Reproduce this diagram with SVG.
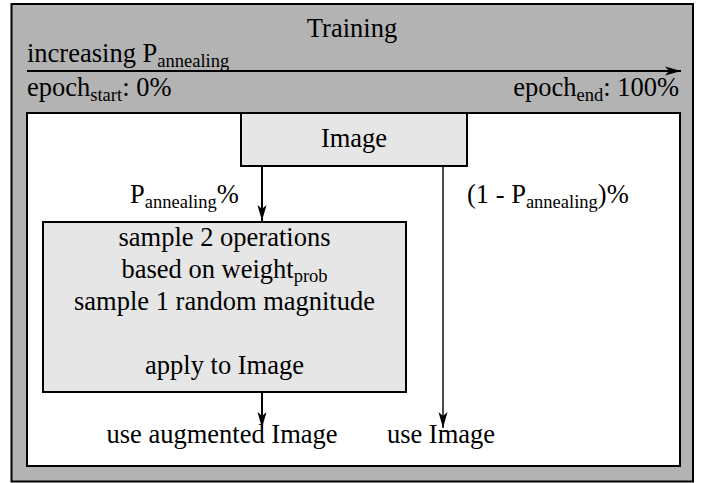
<svg xmlns="http://www.w3.org/2000/svg" width="707" height="483" viewBox="0 0 707 483">
<style>
text{font-family:'Liberation Serif','Times New Roman',Tinos,'DejaVu Serif',serif;font-size:26.5px;fill:#000}
.sub{font-size:18.5px}
.box{stroke:#000;stroke-width:2}
.conn{stroke:#000;fill:none}
</style>
<defs>
<marker id="ah" markerUnits="userSpaceOnUse" markerWidth="18" markerHeight="10" refX="16" refY="5" orient="auto">
<path d="M0,0.5 L16,5 L0,9.5 L4,5 z" fill="#000"/>
</marker>
</defs>
<g id="training">
<rect x="11.5" y="4" width="681.5" height="477.5" fill="#b3b3b3" class="box"/>
<text x="352" y="37" text-anchor="middle">Training</text>
<text x="27" y="62">increasing P<tspan class="sub" dy="5">annealing</tspan></text>
<text x="27" y="96">epoch<tspan class="sub" dy="5">start</tspan><tspan dy="-5">: 0%</tspan></text>
<text x="679" y="96" text-anchor="end">epoch<tspan class="sub" dy="5">end</tspan><tspan dy="-5">: 100%</tspan></text>
</g>
<g id="area">
<rect x="27" y="113" width="653" height="353" fill="#fff" class="box"/>
</g>
<g id="image">
<rect x="241" y="113" width="226" height="53" fill="#e6e6e6" class="box"/>
<text x="354" y="147" text-anchor="middle">Image</text>
</g>
<g id="augment">
<rect x="43" y="222" width="363" height="170" fill="#e6e6e6" class="box"/>
<text x="224.5" y="246" text-anchor="middle">sample 2 operations</text>
<text x="224.5" y="278" text-anchor="middle">based on weight<tspan class="sub" dy="4">prob</tspan></text>
<text x="224.5" y="310" text-anchor="middle">sample 1 random magnitude</text>
<text x="224.5" y="374" text-anchor="middle">apply to Image</text>
</g>
<g id="out-aug">
<text x="222" y="443" text-anchor="middle">use augmented Image</text>
</g>
<g id="out-img">
<text x="441" y="443" text-anchor="middle">use Image</text>
</g>
<g id="connectors">
<line x1="27" y1="71" x2="681" y2="71" class="conn" stroke-width="2" marker-end="url(#ah)"/>
<line x1="262" y1="166" x2="262" y2="221" class="conn" stroke-width="2" marker-end="url(#ah)"/>
<line x1="443" y1="166" x2="443" y2="428" class="conn" stroke-width="1.4" marker-end="url(#ah)"/>
<line x1="262" y1="392" x2="262" y2="428" class="conn" stroke-width="2" marker-end="url(#ah)"/>
<text x="130" y="203">P<tspan class="sub" dy="5">annealing</tspan><tspan dy="-5">%</tspan></text>
<text x="467" y="203">(1 - P<tspan class="sub" dy="5">annealing</tspan><tspan dy="-5">)%</tspan></text>
</g>
</svg>
